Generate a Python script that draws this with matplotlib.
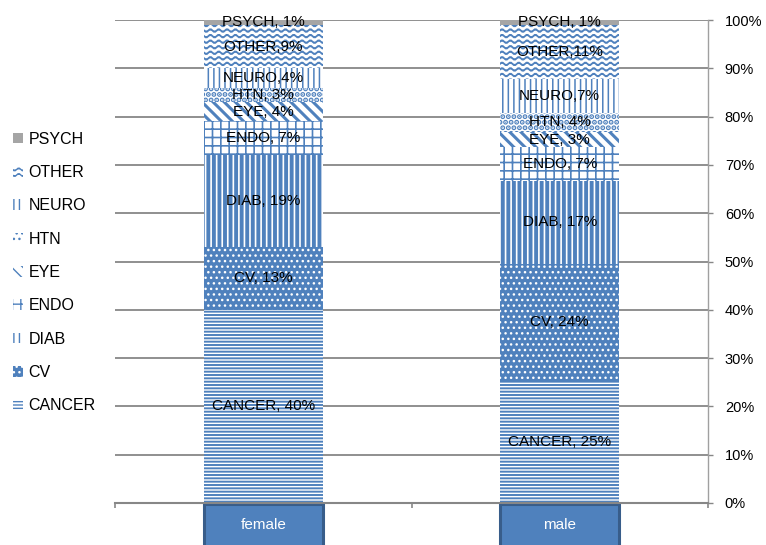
import numpy as np
import matplotlib
matplotlib.use("Agg")
import matplotlib.pyplot as plt
import matplotlib.hatch as mhatch
from matplotlib.path import Path
from matplotlib.patches import Patch, Rectangle

# data (percent of each gender)
genders = ["female", "male"]
causes = ["CANCER", "CV", "DIAB", "ENDO", "EYE", "HTN", "NEURO", "OTHER", "PSYCH"]
female = [40, 13, 19, 7, 4, 3, 4, 9, 1]
male = [25, 24, 17, 7, 3, 4, 7, 11, 1]
female_labels = ["CANCER, 40%", "CV, 13%", "DIAB, 19%", "ENDO, 7%", "EYE, 4%",
                 "HTN, 3%", "NEURO,4%", "OTHER,9%", "PSYCH, 1%"]
male_labels = ["CANCER, 25%", "CV, 24%", "DIAB, 17%", "ENDO, 7%", "EYE, 3%",
               "HTN, 4%", "NEURO,7%", "OTHER,11%", "PSYCH, 1%"]
y_ticks = [0, 10, 20, 30, 40, 50, 60, 70, 80, 90, 100]

blue = "#4f81bd"
gray = "#878787"

# (face, hatch colour, hatch, hatch linewidth)
styles = {
    "CANCER": ("white", blue, "-----", 1.4),
    "CV": (blue, "white", "...", 1.0),
    "DIAB": ("white", blue, "|||", 2.8),
    "ENDO": ("white", blue, "++", 1.2),
    "EYE": ("white", blue, "\\\\\\", 2.2),
    "HTN": ("white", blue, "...", 2.6),
    "NEURO": ("white", blue, "|||", 1.1),
    "OTHER": ("white", blue, "~~~", 1.3),
    "PSYCH": ("#a5a5a5", "#a5a5a5", None, 1.0),
}


class WaveHatch(mhatch.HatchPatternBase):
    # wavy lines for '~' (not a built in hatch)
    def __init__(self, hatch, density):
        self.num_lines = int(hatch.count("~") * density)
        self.num_waves = 12
        self.num_pts = self.num_waves * 6 + 1
        self.num_vertices = self.num_lines * self.num_pts

    def set_vertices_and_codes(self, vertices, codes):
        x = np.linspace(0, 1, self.num_pts)
        step = 1.0 / self.num_lines
        for i in range(self.num_lines):
            y = (i + 0.5) * step + 0.25 * step * np.sin(2 * np.pi * self.num_waves * x)
            vertices[i * self.num_pts:(i + 1) * self.num_pts, 0] = x
            vertices[i * self.num_pts:(i + 1) * self.num_pts, 1] = y
        codes[:] = Path.LINETO
        codes[::self.num_pts] = Path.MOVETO


mhatch._hatch_types.append(WaveHatch)
mhatch._validate_hatch_pattern = lambda hatch: None

plt.rcParams["font.family"] = ["Liberation Sans", "DejaVu Sans"]

fig = plt.figure(figsize=(7.66, 5.45), dpi=100)
ax = fig.add_axes([115 / 766, 42 / 545, 593 / 766, 483 / 545])

values = np.array([female, male], dtype=float)
shares = values / values.sum(axis=1, keepdims=True)
labels = [female_labels, male_labels]
x = np.arange(len(genders))
bottoms = np.zeros(len(genders))
width = 0.4

handles = []
for j, cause in enumerate(causes):
    fc, hc, hatch, hlw = styles[cause]
    with plt.rc_context({"hatch.linewidth": hlw}):
        bars = ax.bar(x, shares[:, j], width=width, bottom=bottoms,
                      color=fc, edgecolor=hc, hatch=hatch, linewidth=0)
        h = Patch(facecolor=fc, edgecolor=hc, hatch=hatch, linewidth=0)
    for b in list(bars) + [h]:
        if hasattr(b, "set_hatch_linewidth"):
            b.set_hatch_linewidth(hlw)
    handles.append(h)
    for i in range(len(genders)):
        ax.text(x[i], bottoms[i] + shares[i, j] / 2, labels[i][j],
                ha="center", va="center", fontsize=11, color="black")
    bottoms += shares[:, j]

ax.set_xlim(-0.5, 1.5)
ax.set_ylim(0, 1)
ax.set_yticks(np.array(y_ticks) / 100)
ax.set_yticklabels([f"{t}%" for t in y_ticks])
ax.yaxis.tick_right()
ax.tick_params(axis="y", direction="out", length=3.6, width=1, color=gray,
               pad=8.5, labelsize=10.5)
ax.set_xticks([-0.5, 0.5, 1.5])
ax.set_xticklabels([])
ax.tick_params(axis="x", direction="out", length=3.6, width=1.2, color=gray)

ax.grid(axis="y", color=gray, linewidth=1.3)
ax.set_axisbelow(True)
for side in ["left", "top"]:
    ax.spines[side].set_visible(False)
ax.spines["right"].set_color("#a0a0a0")
ax.spines["right"].set_linewidth(1.0)
ax.spines["bottom"].set_color(gray)
ax.spines["bottom"].set_linewidth(1.5)

# category labels in blue boxes under the bars
tr = ax.get_xaxis_transform()
for i, g in enumerate(genders):
    ax.add_patch(Rectangle((x[i] - width / 2, -0.15), width, 0.147, transform=tr,
                           clip_on=False, facecolor=blue, edgecolor="#385d8a",
                           linewidth=2.2))
    ax.text(x[i], -0.045, g, transform=tr, ha="center", va="center",
            color="white", fontsize=11)

fig.legend(handles[::-1], causes[::-1], loc="center left", bbox_to_anchor=(0.006, 0.5),
           frameon=False, fontsize=11.5, handlelength=0.65, handleheight=0.65,
           handletextpad=0.35, labelspacing=1.15, borderpad=0)

fig.savefig("out.png", dpi=100)
